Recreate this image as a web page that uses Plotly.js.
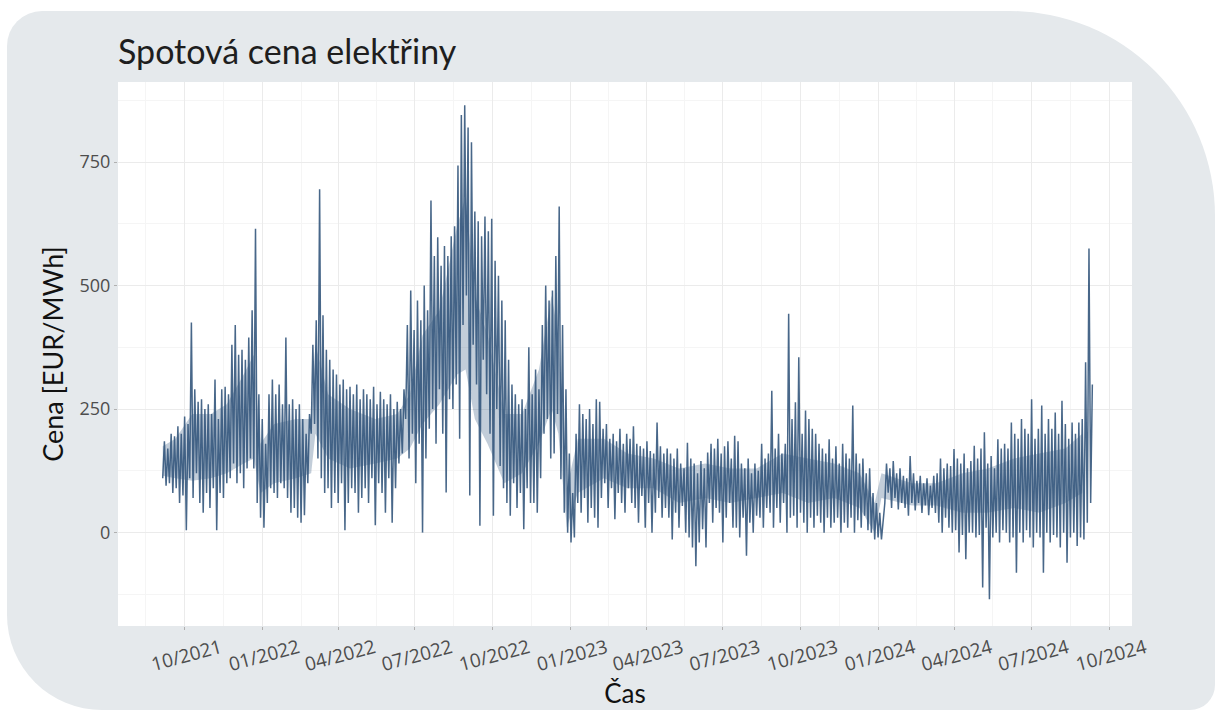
<!DOCTYPE html>
<html>
<head>
<meta charset="utf-8">
<script src="https://cdn.plot.ly/plotly-3.0.1.min.js"></script>
<style>
  html, body { margin: 0; padding: 0; background: #ffffff; }
  #wrap { position: relative; width: 1215px; height: 711px; overflow: hidden; background: #ffffff; }
  #panel { position: absolute; left: 7px; top: 11px; width: 1208px; height: 699px; background: #e5e9ec;
           border-radius: 35px 205px 25px 95px; }
  #chart { position: absolute; left: 0; top: 0; width: 1215px; height: 711px; }
</style>
</head>
<body>
<div id="wrap">
  <div id="panel"></div>
  <div id="chart"></div>
</div>
<script>
// Spot price of electricity: low and high of every 4-day window (EUR/MWh)
const seriesStart = '2021-09-05';
const windowDays = 4;

const windowHigh = [
  185,170,200,195,215,200,235,220,425,290,
  265,270,250,260,240,310,230,290,295,280,
  380,420,360,370,350,395,450,615,280,230,
  180,280,310,280,300,260,395,260,270,250,
  260,230,200,240,380,430,695,440,370,350,
  330,320,300,310,290,295,280,300,270,290,
  280,270,295,260,285,270,260,280,250,265,
  250,290,420,490,410,470,430,500,450,672,
  560,598,540,580,560,600,620,743,845,865,
  820,790,650,630,600,640,610,635,550,520,
  470,430,350,300,280,260,270,250,375,280,
  330,290,420,500,470,490,560,660,420,290,
  160,80,200,260,240,230,250,220,270,265,
  210,220,190,200,185,210,180,200,190,215,
  180,175,170,185,165,160,223,175,160,170,
  160,150,170,140,130,182,150,140,120,145,
  130,162,180,170,190,160,175,185,150,196,
  185,140,130,150,120,140,125,180,150,160,
  287,170,200,160,180,443,230,264,355,200,
  247,230,210,200,180,170,160,189,150,175,
  140,180,160,150,257,160,140,150,120,130,
  80,60,40,20,140,130,145,120,130,115,
  110,155,120,105,115,100,110,95,115,120,
  150,130,140,135,169,150,140,160,130,145,
  176,150,170,203,140,155,130,189,170,180,
  170,223,200,190,230,210,200,270,190,210,
  257,200,230,210,243,200,267,220,190,223,
  200,223,230,345,575,300
];

const windowLow = [
  110,95,100,80,90,60,75,5,110,70,
  120,60,40,80,50,90,5,80,70,100,
  110,140,100,120,90,130,150,130,60,30,
  10,60,90,80,70,100,90,70,40,50,
  30,20,35,100,200,220,150,110,80,90,
  50,80,60,100,5,60,90,80,40,70,
  90,60,110,15,100,80,40,110,20,90,
  140,160,230,150,200,100,180,0,150,210,
  250,180,290,200,81,270,250,300,190,420,
  480,75,380,300,14,350,280,200,34,250,
  135,90,60,34,100,50,80,7,90,60,
  60,40,110,200,230,150,160,240,108,40,
  0,-20,-10,60,40,70,20,50,30,10,
  70,100,50,90,27,80,60,40,90,60,
  50,20,74,10,60,0,40,70,30,50,
  30,-14,40,10,54,0,-10,-30,-68,-20,
  7,-30,60,20,50,40,-20,30,60,10,
  10,-10,30,-47,20,0,34,30,10,50,
  40,10,50,20,60,0,30,34,10,40,
  20,0,30,10,34,20,0,30,10,20,
  30,0,20,10,30,0,25,10,34,5,
  0,-14,-10,-14,60,81,50,70,47,60,
  50,34,60,45,60,40,55,35,50,40,
  20,0,30,10,0,5,-40,-5,-54,0,
  0,-10,-5,-111,10,-135,-10,0,-20,5,
  0,-20,-10,-81,0,-20,5,-10,-30,0,
  -10,-81,0,-20,-5,-10,-30,0,-61,-10,
  0,-27,-10,-14,20,60
];

// dense core of the hourly prices (where most hours lie)
const coreDates = [
  '2021-09-05','2021-09-20','2021-10-10','2021-11-01','2021-11-20','2021-12-10','2021-12-22','2021-12-30',
  '2022-01-15','2022-02-10','2022-02-28','2022-03-05','2022-03-20','2022-04-15','2022-05-15','2022-06-10',
  '2022-06-25','2022-07-10','2022-07-30','2022-08-20','2022-08-30','2022-09-10','2022-09-25','2022-10-15',
  '2022-11-05','2022-11-25','2022-12-10','2022-12-18','2022-12-28','2023-01-10','2023-02-10','2023-03-10',
  '2023-04-10','2023-05-10','2023-06-10','2023-07-10','2023-08-10','2023-09-10','2023-10-10','2023-11-10',
  '2023-12-10','2023-12-28','2024-01-05','2024-02-10','2024-03-10','2024-04-10','2024-05-10','2024-06-10',
  '2024-07-10','2024-08-10','2024-08-30'
];
const coreLow = [
  115,110,105,110,120,140,150,80,
  100,110,120,200,150,130,140,150,
  170,220,260,320,330,230,180,100,
  120,180,250,200,10,80,110,90,
  90,60,70,60,70,80,60,70,
  50,0,70,55,55,40,40,50,
  40,60,80
];
const coreHigh = [
  175,190,240,240,260,320,360,180,
  220,230,230,380,280,250,230,240,
  280,400,450,620,680,480,400,240,
  240,330,480,400,90,190,190,160,
  150,130,140,130,130,160,150,140,
  120,60,120,100,100,120,130,150,
  160,170,200
];

const xTickFormat = '%m/%Y';
const titleText = 'Spotová cena elektřiny';
const yTitle = 'Cena [EUR/MWh]';
const xTitle = 'Čas';

const DAY = 86400000;
const t0 = Date.parse(seriesStart + 'T00:00:00Z');
const xs = [], ys = [];
for (let i = 0; i < windowHigh.length; i++) {
  const a = new Date(t0 + i * windowDays * DAY).toISOString().slice(0, 10);
  const b = new Date(t0 + (i * windowDays + windowDays / 2) * DAY).toISOString().slice(0, 10);
  xs.push(a); ys.push(windowLow[i]);
  xs.push(b); ys.push(windowHigh[i]);
}

const lineColor = 'rgba(52,86,124,0.9)';
const traces = [
  { type: 'scatter', mode: 'lines', x: coreDates, y: coreLow, line: { width: 0, color: lineColor },
    hoverinfo: 'skip', showlegend: false },
  { type: 'scatter', mode: 'lines', x: coreDates, y: coreHigh, line: { width: 0, color: lineColor },
    fill: 'tonexty', fillcolor: 'rgba(52,88,128,0.3)', hoverinfo: 'skip', showlegend: false },
  { type: 'scatter', mode: 'lines', x: xs, y: ys, line: { color: lineColor, width: 1.5 },
    hoverinfo: 'x+y', showlegend: false }
];

const layout = {
  width: 1215, height: 711,
  paper_bgcolor: 'rgba(0,0,0,0)', plot_bgcolor: '#ffffff',
  margin: { l: 118, r: 83, t: 82, b: 85 },
  font: { family: 'Lato, "Open Sans", sans-serif', color: '#555' },
  title: {
    text: titleText, xref: 'container', yref: 'container',
    x: 118 / 1215, xanchor: 'left', y: 1 - 52 / 711, yanchor: 'middle',
    font: { family: 'Lato, sans-serif', size: 34, color: '#1e1e1e' }
  },
  xaxis: {
    type: 'date', range: ['2021-07-14', '2024-10-28'],
    tick0: '2021-10-01', dtick: 'M3', tickformat: xTickFormat, tickangle: -15,
    ticklabelshift: 36,
    tickfont: { family: '"Open Sans", sans-serif', size: 19, color: '#4d4d4d' },
    ticks: 'outside', ticklen: 3, tickcolor: '#b0b0b0',
    showgrid: true, gridcolor: '#ebebeb', gridwidth: 1,
    minor: { dtick: 'M3', tick0: '2021-08-16', showgrid: true, gridcolor: '#f5f5f5', ticks: '' },
    zeroline: false, showline: false,
    title: { text: xTitle, font: { size: 26, color: '#111' }, standoff: 0 }
  },
  yaxis: {
    range: [-189, 912], tick0: 0, dtick: 250,
    tickfont: { family: '"Open Sans", sans-serif', size: 18, color: '#4d4d4d' },
    ticks: 'outside', ticklen: 3, tickcolor: '#b0b0b0',
    showgrid: true, gridcolor: '#ebebeb', gridwidth: 1,
    minor: { dtick: 125, tick0: 0, showgrid: true, gridcolor: '#f5f5f5', ticks: '' },
    zeroline: false, showline: false,
    title: { text: yTitle, font: { size: 27, color: '#111' }, standoff: 8 }
  }
};

Plotly.newPlot('chart', traces, layout, { displayModeBar: false, staticPlot: true });
</script>
</body>
</html>
